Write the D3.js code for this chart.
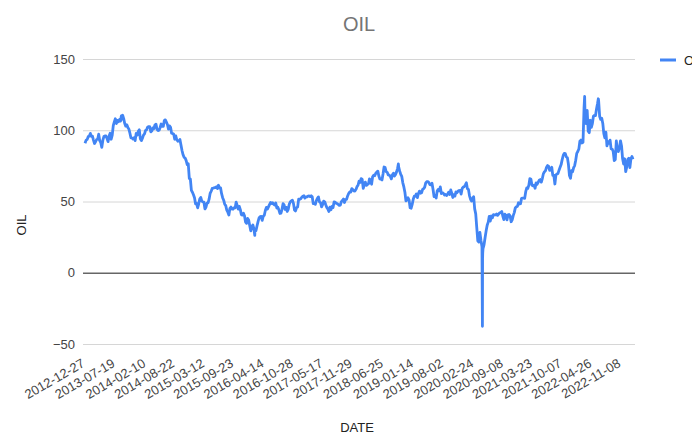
<!DOCTYPE html>
<html>
<head>
<meta charset="utf-8">
<title>OIL</title>
<script src="https://cdn.jsdelivr.net/npm/d3@7"></script>
<style>
  html, body { margin: 0; padding: 0; background: #fff; }
  svg { display: block; font-family: "Liberation Sans", Arial, sans-serif; }
</style>
</head>
<body>
<svg id="chart" width="692" height="435"></svg>
<script>
// WTI crude, weekly (Friday) closes per calendar year
const wti2013 = [93.1,93.6,95.6,95.9, 97.8,95.7,95.9,93.1, 90.7,91.9,93.5,93.7,97.2, 92.7,91.3,88.0,93.0,
  95.6,96.0,96.0,94.2,92.0, 96.0,97.9,93.7,96.6, 103.2,105.9,108.1,104.7, 106.9,106.0,107.5,106.4,107.7,
  110.5,108.2,104.7,102.9, 103.8,102.0,100.8,97.9, 94.6,94.6,93.8,94.8,92.7, 97.7,96.6,99.3,100.3];
const wti2014 = [94.0,92.7,94.4,96.6,97.5, 99.9,100.3,102.2,102.6, 102.6,98.9,99.5,101.7, 101.1,103.7,104.3,100.6,
  99.8,100.0,102.0,104.4,102.7, 102.7,106.9,107.3,105.7, 104.0,100.8,103.1,102.1, 97.9,97.7,97.4,93.7,96.0,
  93.3,92.3,92.4,93.5, 89.7,85.8,82.8,81.0,80.5, 78.7,75.8,76.5,66.2, 65.8,57.8,56.5,54.7];
const wti2015 = [52.7,48.4,48.7,45.6,48.2, 51.7,52.8,50.3,49.8, 49.6,44.8,46.0,48.9, 49.1,51.6,55.7,57.2,
  59.2,59.4,59.7,59.7,60.3, 59.1,61.4,59.6,59.6, 55.5,52.7,50.9,48.1,47.1, 43.9,42.5,40.5,45.2,
  46.1,44.6,44.7,45.7, 45.5,49.6,47.3,44.6,46.6, 44.3,40.7,40.4,41.7, 40.0,35.6,34.7,38.1];
const wti2016 = [37.0,33.2,29.4,32.2,33.6, 30.9,29.4,29.6,32.8, 35.9,38.5,39.4,39.5, 36.8,39.7,40.4,43.7,45.9,
  44.7,46.2,47.8,49.3, 48.6,49.1,48.0,47.6, 49.0,45.4,46.0,44.2,41.6, 41.8,44.5,48.5,47.6,
  44.4,45.9,43.0,44.5,48.2, 49.8,50.4,50.9,48.7, 44.1,43.4,45.7,46.1, 51.7,51.5,51.9,53.0,53.7];
const wti2017 = [54.0,52.4,53.2,53.2, 53.8,53.9,53.4,54.0, 53.3,48.5,48.8,48.0,50.6, 52.2,53.2,49.6,49.3,
  46.2,47.8,50.3,49.8, 47.7,45.8,44.7,43.0,46.0, 44.2,46.5,45.8,49.7, 49.6,48.8,48.5,47.9,
  47.3,47.5,49.9,50.7,51.7, 49.3,51.5,51.5,53.9, 55.6,56.7,56.6,59.0, 58.4,57.4,57.3,58.5,60.4];
const wti2018 = [61.4,64.3,63.4,66.1, 65.5,59.2,61.7,63.6, 61.3,62.0,62.3,65.9,64.9, 62.1,67.4,68.4,68.1,
  69.7,70.7,71.3,67.9, 65.8,65.7,65.1,69.3,74.2, 73.8,71.0,70.5,68.7, 68.5,67.6,65.9,68.7,69.8,
  67.8,69.0,70.8,73.3, 74.3,71.3,69.1,67.6, 63.1,60.2,56.5,50.4,50.9, 52.6,51.2,45.6,45.3];
const wti2019 = [48.0,51.6,53.8,53.7, 55.3,52.7,55.6,57.3, 55.8,56.1,58.5,59.0,60.1, 63.1,63.9,64.0,63.3,
  61.9,61.7,62.8,58.6,53.5, 54.0,52.5,57.4,58.5, 57.5,60.2,55.6,56.2, 55.7,54.5,54.9,54.2,55.1,
  56.5,54.9,58.1,55.9, 52.8,54.7,53.8,56.7, 56.2,57.2,57.7,57.8,55.2, 59.2,60.1,60.4,61.7];
const wti2020 = [63.1,59.0,58.5,54.2,51.6, 50.3,52.1,53.4,44.8, 41.3,31.7,22.4,21.5, 28.3,22.8,18.3,17.0,
  19.8,24.7,29.4,33.3,35.5, 39.6,36.3,39.8,38.5, 40.7,40.6,40.6,41.3,40.3, 41.2,42.0,42.3,43.0,
  39.8,37.3,41.1,40.3, 37.1,40.6,40.9,39.9,35.8, 37.1,40.1,42.2,45.5, 46.3,46.6,49.1,48.2];
const wti2021 = [48.5,52.2,52.4,52.3,52.2, 56.9,59.5,59.2,61.5, 66.1,65.6,61.4,61.0, 61.5,59.3,63.1,62.1,63.6,
  64.9,65.4,63.6,66.3, 69.6,70.9,71.6,74.1, 75.2,74.6,71.8,72.1,74.0, 68.3,68.4,62.3,68.7,
  69.3,69.7,72.0,74.0, 75.9,79.4,82.3,83.8,83.6, 81.3,80.8,76.1,68.2, 66.3,71.7,70.9,73.8,75.2];
const wti2022 = [78.9,83.8,85.1,86.8, 92.3,93.1,91.1,91.6, 115.7,109.3,104.7,113.9, 99.3,98.3,107.0,102.1,104.7,
  109.8,110.5,110.3,115.1, 118.9,120.7,109.6,107.6, 108.4,104.8,97.6,94.7,98.6, 89.0,92.1,90.8,93.1,
  86.9,86.8,85.1,78.7,79.5, 92.6,85.6,85.1,87.9, 92.6,89.0,80.1,76.3, 80.0,71.0,74.3,79.6,80.3];
const wti2023 = [73.8,79.9,81.6,79.7];

// Single-day closes outside the Friday grid (first day, extremes)
const dailyCloses = [
  ["2012-12-27", 90.9], ["2013-08-28", 110.1], ["2016-02-11", 26.2], ["2018-10-03", 76.4],
  ["2020-04-20", -37.6], ["2020-04-21", 10.0], ["2020-04-22", 13.8],
  ["2022-03-08", 123.7], ["2022-06-08", 122.1]
];

const tickDates = ["2012-12-27","2013-07-19","2014-02-10","2014-08-22","2015-03-12","2015-09-23",
  "2016-04-14","2016-10-28","2017-05-17","2017-11-29","2018-06-25","2019-01-14","2019-08-02",
  "2020-02-24","2020-09-08","2021-03-23","2021-10-07","2022-04-26","2022-11-08"];
const yTicks = [-50, 0, 50, 100, 150];

const seriesName = "OIL";
const chartTitle = "OIL";
const xTitle = "DATE";
const yTitle = "OIL";

// Assemble the dated series
const parse = d3.utcParse("%Y-%m-%d");
const yearly = [[2013, wti2013],[2014, wti2014],[2015, wti2015],[2016, wti2016],[2017, wti2017],
  [2018, wti2018],[2019, wti2019],[2020, wti2020],[2021, wti2021],[2022, wti2022],[2023, wti2023]];
let data = [];
yearly.forEach(([yr, vals]) => {
  const fridays = d3.utcFriday.range(new Date(Date.UTC(yr, 0, 1)), new Date(Date.UTC(yr + 1, 0, 1)));
  vals.forEach((v, i) => data.push({ date: fridays[i], value: v }));
});
dailyCloses.forEach(([d, v]) => data.push({ date: parse(d), value: v }));
data.sort((a, b) => a.date - b.date);

const svg = d3.select("#chart");
const left = 83, right = 635;

const x = d3.scaleUtc()
  .domain([parse("2012-12-27"), d3.max(data, d => d.date)])
  .range([85, 633]);
const y = d3.scaleLinear().domain([-50, 150]).range([344, 59]);

// Title
svg.append("text")
  .attr("x", (left + right) / 2).attr("y", 31)
  .attr("text-anchor", "middle")
  .attr("font-size", 20).attr("fill", "#757575")
  .text(chartTitle);

// Y axis with gridlines
const yAxis = svg.append("g")
  .attr("transform", `translate(${left},0)`)
  .call(d3.axisLeft(y).tickValues(yTicks).tickSize(-(right - left)).tickPadding(8).tickFormat(d3.format("d")));
yAxis.select(".domain").remove();
yAxis.selectAll(".tick line")
  .attr("stroke", d => d === 0 ? "#666" : "#d6d6d6")
  .attr("stroke-width", d => d === 0 ? 1.3 : 1);
yAxis.selectAll(".tick text")
  .attr("font-size", 13).attr("fill", "#444")
  .attr("font-family", "'Liberation Sans', Arial, sans-serif");

// X axis labels, slanted
const xAxis = svg.append("g")
  .attr("transform", "translate(0,352)")
  .call(d3.axisBottom(x).tickValues(tickDates.map(parse)).tickSize(0).tickFormat(d3.utcFormat("%Y-%m-%d")));
xAxis.select(".domain").remove();
xAxis.selectAll(".tick text")
  .attr("x", 0).attr("y", 0).attr("dy", 0)
  .attr("transform", "translate(0,14) rotate(-30)")
  .attr("text-anchor", "end")
  .attr("font-size", 13).attr("fill", "#444")
  .attr("font-family", "'Liberation Sans', Arial, sans-serif");

// Axis titles
svg.append("text")
  .attr("x", 357).attr("y", 432)
  .attr("text-anchor", "middle")
  .attr("font-size", 13).attr("fill", "#222")
  .text(xTitle);
svg.append("text")
  .attr("transform", "translate(26,225) rotate(-90)")
  .attr("text-anchor", "middle")
  .attr("font-size", 13).attr("fill", "#222")
  .text(yTitle);

// Price line
const line = d3.line().x(d => x(d.date)).y(d => y(d.value));
svg.append("path")
  .datum(data)
  .attr("fill", "none")
  .attr("stroke", "#4285f4")
  .attr("stroke-width", 2.8)
  .attr("stroke-linejoin", "round")
  .attr("d", line);

// Legend (runs off the right edge)
const legend = svg.append("g").attr("transform", "translate(660,60)");
legend.append("line")
  .attr("x1", 0).attr("x2", 16).attr("y1", 0).attr("y2", 0)
  .attr("stroke", "#4285f4").attr("stroke-width", 3);
legend.append("text")
  .attr("x", 24).attr("y", 0).attr("dy", "0.35em")
  .attr("font-size", 13).attr("fill", "#222")
  .text(seriesName);
</script>
</body>
</html>
